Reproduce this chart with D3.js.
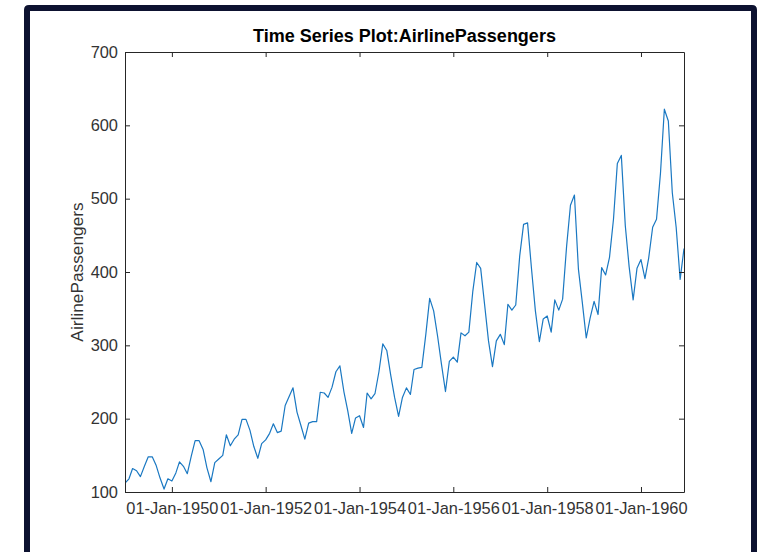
<!DOCTYPE html>
<html>
<head>
<meta charset="utf-8">
<script src="https://cdn.jsdelivr.net/npm/d3@7"></script>
<style>
  html, body { margin: 0; padding: 0; background: #fff; }
  svg { display: block; }
</style>
</head>
<body>
<svg id="chart" width="759" height="552"></svg>
<script>
// monthly passengers, Jan 1949 .. Dec 1960
const passengers = [
  112, 118, 132, 129, 121, 135, 148, 148, 136, 119, 104, 118,
  115, 126, 141, 135, 125, 149, 170, 170, 158, 133, 114, 140,
  145, 150, 178, 163, 172, 178, 199, 199, 184, 162, 146, 166,
  171, 180, 193, 181, 183, 218, 230, 242, 209, 191, 172, 194,
  196, 196, 236, 235, 229, 243, 264, 272, 237, 211, 180, 201,
  204, 188, 235, 227, 234, 264, 302, 293, 259, 229, 203, 229,
  242, 233, 267, 269, 270, 315, 364, 347, 312, 274, 237, 278,
  284, 277, 317, 313, 318, 374, 413, 405, 355, 306, 271, 306,
  315, 301, 356, 348, 355, 422, 465, 467, 404, 347, 305, 336,
  340, 318, 362, 348, 363, 435, 491, 505, 404, 359, 310, 337,
  360, 342, 406, 396, 420, 472, 548, 559, 463, 407, 362, 405,
  417, 391, 419, 461, 472, 535, 622, 606, 508, 461, 390, 432
];
const startYear = 1949;
const xTickYears = [1950, 1952, 1954, 1956, 1958, 1960];
const yTicks = [100, 200, 300, 400, 500, 600, 700];

const data = passengers.map((v, i) => ({
  date: new Date(startYear + Math.floor(i / 12), i % 12, 1),
  value: v
}));

const margin = { left: 125, right: 75, top: 52, bottom: 60 };
const W = 759, H = 552;
const w = W - margin.left - margin.right;
const h = H - margin.top - margin.bottom;

const svg = d3.select('#chart');
const axisColor = '#262626';
const font = '"Liberation Sans", Arial, Helvetica, sans-serif';

// outer dark frame
svg.append('path')
  .attr('d', 'M27,560 L27,10 Q27,8 29,8 L752,8 Q754,8 754,10 L754,560')
  .attr('fill', 'none')
  .attr('stroke', '#0d1230')
  .attr('stroke-width', 6);

const x = d3.scaleTime()
  .domain([data[0].date, data[data.length - 1].date])
  .range([0, w]);
const y = d3.scaleLinear().domain([100, 700]).range([h, 0]);

const g = svg.append('g').attr('transform', `translate(${margin.left},${margin.top})`);

// clip line to axes box
g.append('clipPath').attr('id', 'clip')
  .append('rect').attr('width', w).attr('height', h);

const line = d3.line().x(d => x(d.date)).y(d => y(d.value));
g.append('path')
  .datum(data)
  .attr('clip-path', 'url(#clip)')
  .attr('fill', 'none')
  .attr('stroke', '#1a78c2')
  .attr('stroke-width', 1.2)
  .attr('stroke-linejoin', 'round')
  .attr('d', line);

const xTickDates = xTickYears.map(yr => new Date(yr, 0, 1));
const fmt = d3.timeFormat('%d-%b-%Y');

// bottom axis
const xAxis = g.append('g').attr('transform', `translate(0,${h})`)
  .call(d3.axisBottom(x).tickValues(xTickDates).tickFormat(fmt).tickSizeInner(-5).tickSizeOuter(0).tickPadding(10));
// top axis (ticks only)
const xTop = g.append('g')
  .call(d3.axisTop(x).tickValues(xTickDates).tickFormat('').tickSizeInner(-5).tickSizeOuter(0));
// left axis
const yAxis = g.append('g')
  .call(d3.axisLeft(y).tickValues(yTicks).tickSizeInner(-5).tickSizeOuter(0).tickPadding(7));
// right axis (ticks only)
const yRight = g.append('g').attr('transform', `translate(${w},0)`)
  .call(d3.axisRight(y).tickValues(yTicks).tickFormat('').tickSizeInner(-5).tickSizeOuter(0));

[xAxis, xTop, yAxis, yRight].forEach(a => {
  a.select('.domain').attr('stroke', axisColor).attr('stroke-width', 1);
  a.selectAll('.tick line').attr('stroke', axisColor);
  a.selectAll('text')
    .attr('fill', '#333')
    .style('font-family', font)
    .style('font-size', '16.4px');
});

// title
svg.append('text')
  .attr('x', margin.left + w / 2)
  .attr('y', 42)
  .attr('text-anchor', 'middle')
  .style('font-family', font)
  .style('font-size', '18px')
  .style('font-weight', 'bold')
  .attr('fill', '#000')
  .text('Time Series Plot:AirlinePassengers');

// y label
svg.append('text')
  .attr('transform', `translate(83,${margin.top + h / 2}) rotate(-90)`)
  .attr('text-anchor', 'middle')
  .style('font-family', font)
  .style('font-size', '17.3px')
  .attr('fill', '#333')
  .text('AirlinePassengers');
</script>
</body>
</html>
